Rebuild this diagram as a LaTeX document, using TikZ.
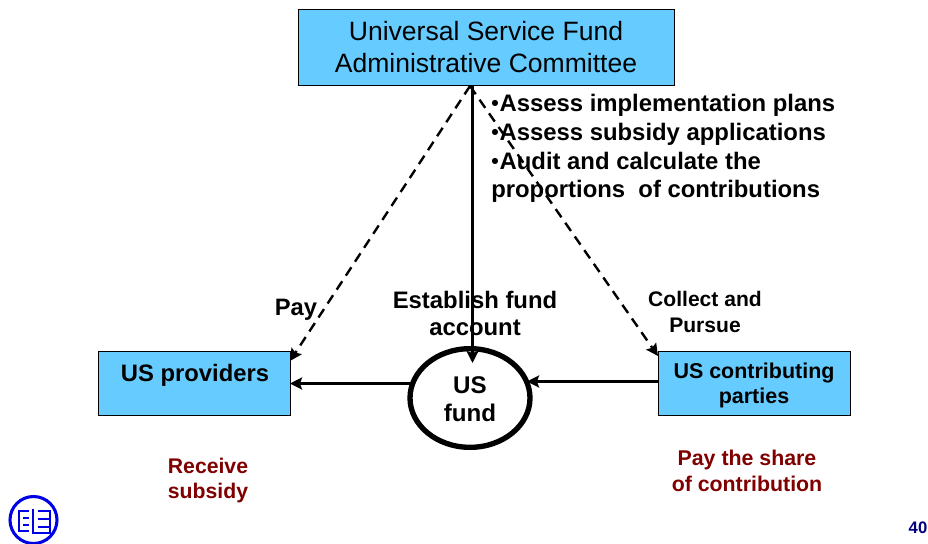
\documentclass[tikz,border=0pt]{standalone}
\usepackage{fontspec}
\setmainfont{Liberation Sans}
\usetikzlibrary{arrows.meta,shapes.geometric}
\definecolor{boxblue}{RGB}{102,204,255}
\definecolor{darkred}{RGB}{128,0,0}
\definecolor{logoblue}{RGB}{0,0,230}
\definecolor{pagenum}{RGB}{0,0,128}
\newcommand{\smallbullet}{\makebox[6.26pt][l]{\raisebox{0.5pt}{\fontsize{16}{16}\selectfont•}}}
\tikzset{
  box/.style={draw=black,line width=0.6pt,fill=boxblue,align=center,inner sep=0pt},
  lab/.style={align=center,inner sep=0pt},
  redlab/.style={lab,text=darkred},
  listlab/.style={lab,anchor=west,font=\fontsize{17.9}{21}\selectfont\bfseries},
  fundnode/.style={ellipse,draw=black,line width=4pt,fill=white,align=center,inner sep=0pt,minimum width=90pt,minimum height=74pt},
  solidarrow/.style={line width=2.25pt,-{Stealth[length=9pt,width=9pt,inset=1.5pt]}},
  dasharrow/.style={line width=1.8pt,dash pattern=on 7.5pt off 5pt,-{Stealth[length=9pt,width=9pt,inset=1.5pt]}},
  logoline/.style={draw=logoblue,line width=1.8pt}
}
\begin{document}
\begin{tikzpicture}[x=0.75pt,y=-0.75pt]
\useasboundingbox (0,0) rectangle (928,543);
\node[box,minimum width=282pt,minimum height=57pt,font=\fontsize{19.9}{24}\selectfont] (top) at (486,47) {Universal Service Fund\\Administrative Committee};
\node[box,minimum width=143.5pt,minimum height=48pt] (prov) at (194.5,383) {};
\node[lab,font=\fontsize{17.85}{20}\selectfont\bfseries] (provt) at (195,375.5) {US providers};
\node[box,minimum width=144pt,minimum height=48pt] (contrib) at (754,383) {};
\node[lab,font=\fontsize{16.1}{18.7}\selectfont\bfseries] (contribt) at (754,385) {US contributing\\parties};
\node[fundnode] (fund) at (470,398) {};
\node[lab,font=\fontsize{18.1}{21}\selectfont\bfseries] (fundl) at (470,399.5) {US\\fund};
\coordinate (a1) at (472.5,85);
\coordinate (a2) at (472.5,363);
\coordinate (b1) at (470,86);
\coordinate (b2) at (290,361);
\coordinate (c2) at (658,356);
\coordinate (d1) at (410,383.5);
\coordinate (d2) at (290,383.5);
\coordinate (e1) at (658,381.5);
\coordinate (e2) at (527,381.5);
\draw[solidarrow] (a1) -- (a2);
\draw[dasharrow] (b1) -- (b2);
\draw[dasharrow] (b1) -- (c2);
\draw[solidarrow] (d1) -- (d2);
\draw[solidarrow] (e1) -- (e2);
\node[listlab] (l1) at (491,105) {\smallbullet Assess implementation plans};
\node[listlab] (l2) at (491,134) {\smallbullet Assess subsidy applications};
\node[listlab] (l3) at (491,161) {\smallbullet Audit and calculate the};
\node[listlab] (l4) at (491,191) {proportions\ \ of contributions};
\node[lab,font=\fontsize{17.8}{20}\selectfont\bfseries] (pay) at (296,309.5) {Pay};
\node[lab,font=\fontsize{17.9}{20}\selectfont\bfseries] (est) at (475,313.5) {Establish fund\\account};
\node[lab,font=\fontsize{15.8}{19.5}\selectfont\bfseries] (coll) at (705,312) {Collect and\\Pursue};
\node[redlab,font=\fontsize{15.9}{19}\selectfont\bfseries] (recv) at (208,480.5) {Receive\\subsidy};
\node[redlab,font=\fontsize{16}{19.5}\selectfont\bfseries] (share) at (747,471) {Pay the share\\of contribution};
\node[lab,text=pagenum,font=\fontsize{12.5}{14}\selectfont\bfseries] (pg) at (918,528) {40};
% logo
\draw[logoline,line width=2.3pt] (33.5,520) circle [radius=23.5];
\draw[logoline] (29,511) -- (19,511) -- (19,531) -- (29,531) (23,518) -- (29,518) (23,525) -- (29,525);
\draw[logoline] (38,511) -- (50,511) -- (50,533) -- (33,533) -- (33,509) (38,519) -- (50,519) (38,527) -- (50,527);
\end{tikzpicture}
\end{document}
